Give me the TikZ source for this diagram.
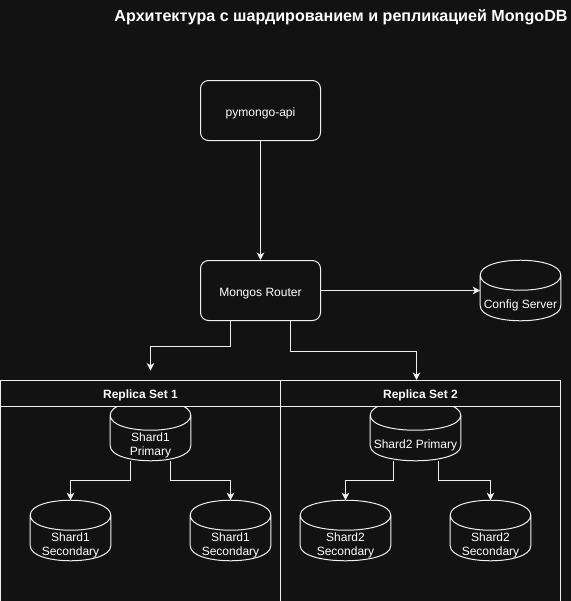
\documentclass[tikz,border=0pt]{standalone}
\usepackage{fontspec}
\setmainfont{Liberation Sans}
\usetikzlibrary{arrows.meta,calc}
\definecolor{bgc}{HTML}{121212}
\definecolor{ink}{HTML}{F0F0F0}
\tikzset{
  x=0.75pt,y=-0.75pt,
  lineink/.style={draw=ink,line width=0.75pt},
  box/.style={lineink,fill=bgc,rounded corners=6pt,minimum width=90pt,minimum height=45pt,inner sep=0pt,text=white,font=\fontsize{9.05}{11}\selectfont,text depth=1.3pt,text height=10pt},
  panel/.style={lineink,fill=bgc,minimum width=210pt,inner sep=0pt},
  headbar/.style={lineink,fill=bgc,minimum width=210pt,minimum height=19.5pt,inner sep=0pt,text=white,font=\fontsize{9}{11}\bfseries\selectfont,text depth=1.9pt,text height=9.5pt},
  dbnode/.style={inner sep=0pt,minimum height=45pt,minimum width=#1*0.75pt},
  dbtext/.style={text=white,font=\fontsize{9}{11}\selectfont,align=center,inner sep=0pt,yshift=-11.2pt},
  conn/.style={lineink,-{Stealth[length=5.6pt,width=5.6pt,inset=1.6pt]},rounded corners=0pt},
}
% cylinder outline, drawn round a named node (bezier as in the source)
\newcommand{\dbcyl}[1]{%
  \draw[lineink,fill=bgc] let \p1=(#1.north west),\p2=(#1.south east) in
    (\x1,\y1-11.25pt) .. controls (\x1,\y1+3.75pt) and (\x2,\y1+3.75pt) .. (\x2,\y1-11.25pt)
    -- (\x2,\y2+11.25pt) .. controls (\x2,\y2-3.75pt) and (\x1,\y2-3.75pt) .. (\x1,\y2+11.25pt) -- cycle
    (\x2,\y1-11.25pt) .. controls (\x2,\y1-26.25pt) and (\x1,\y1-26.25pt) .. (\x1,\y1-11.25pt);
}
\begin{document}
\begin{tikzpicture}
\useasboundingbox (-0.5,-0.5) rectangle (570.5,600.5);
\fill[bgc] (-0.5,-0.5) rectangle (570.5,600.5);
\begin{scope}
\clip (-0.5,-0.5) rectangle (570.5,600.5);
% panels
\node[panel,minimum height=168pt] (rs1) at (140,492) {};
\node[panel,minimum height=168pt] (rs2) at (420,492) {};
% primary cylinders lie under the header bars
\node[dbnode=80] (p1) at (150,430) {};
\node[dbnode=90] (p2) at (415,430) {};
\dbcyl{p1}\dbcyl{p2}
\node[headbar] (h1) at (140,393) {Replica Set 1};
\node[headbar] (h2) at (420,393) {Replica Set 2};
\end{scope}
\node[dbtext] at (p1.center) {Shard1\\Primary};
\node[dbtext] at (p2.center) {Shard2 Primary};
% title
\node[text=white,font=\fontsize{12.08}{14}\bfseries\selectfont,inner sep=0pt] (title) at (340.5,17) {Архитектура с шардированием и репликацией MongoDB};
% boxes
\node[box] (api) at (260,110) {pymongo-api};
\node[box] (router) at (260,290) {Mongos Router};
% other cylinders
\node[dbnode=80] (cfg) at (520,290) {};
\node[dbnode=80] (s11) at (70,530) {};
\node[dbnode=80] (s12) at (230,530) {};
\node[dbnode=90] (s21) at (345,530) {};
\node[dbnode=80] (s22) at (490,530) {};
\dbcyl{cfg}\dbcyl{s11}\dbcyl{s12}\dbcyl{s21}\dbcyl{s22}
\node[dbtext] at (cfg.center) {Config Server};
\node[dbtext] at (s11.center) {Shard1\\Secondary};
\node[dbtext] at (s12.center) {Shard1\\Secondary};
\node[dbtext] at (s21.center) {Shard2\\Secondary};
\node[dbtext] at (s22.center) {Shard2\\Secondary};
% connectors
\coordinate (in1) at (150,370);
\coordinate (in2) at (416,379.5);
\draw[conn] (api) -- (router);
\draw[conn] (router.east) -- (cfg.west);
\draw[conn] ($(router.south)+(-30,0)$) -- ++(0,25) -| (in1);
\draw[conn] ($(router.south)+(30,0)$) -- ++(0,30) -| (in2);
\draw[conn] ($(p1.south)+(-20,0)$) -- ++(0,20) -| (s11.north);
\draw[conn] ($(p1.south)+(20,0)$) -- ++(0,20) -| (s12.north);
\draw[conn] ($(p2.south)+(-22,0)$) -- ++(0,20) -| (s21.north);
\draw[conn] ($(p2.south)+(22.5,0)$) -- ++(0,20) -| (s22.north);
\end{tikzpicture}
\end{document}
